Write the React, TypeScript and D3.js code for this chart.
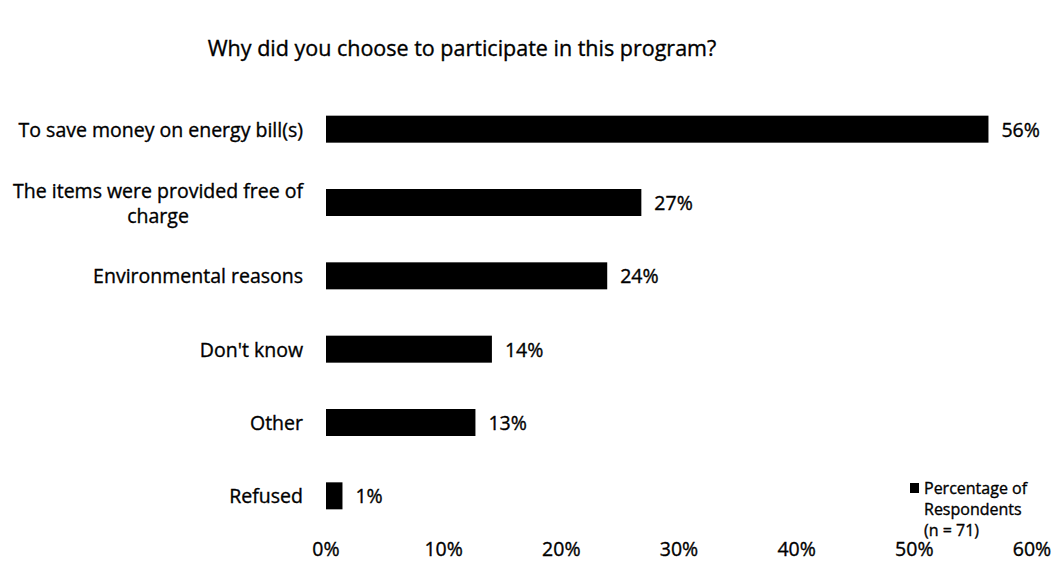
import React, { useEffect, useRef } from "react";
import * as d3 from "d3";

const categories = [
  "To save money on energy bill(s)",
  "The items were provided free of charge",
  "Environmental reasons",
  "Don't know",
  "Other",
  "Refused",
];
const values = [56.3, 26.8, 23.9, 14.1, 12.7, 1.4];
const valueLabels = ["56%", "27%", "24%", "14%", "13%", "1%"];
const xTicks = [0, 10, 20, 30, 40, 50, 60];
const title = "Why did you choose to participate in this program?";
const legendLines = ["Percentage of", "Respondents", "(n = 71)"];

const W = 1056;
const H = 572;
const FONT = "'Open Sans', Lato, sans-serif";
const FS = 19.5;

export default function App() {
  const ref = useRef<SVGSVGElement>(null);

  useEffect(() => {
    const svg = d3.select(ref.current);
    svg.selectAll("*").remove();

    const x = d3.scaleLinear().domain([0, 60]).range([326, 1032]);
    const y = d3.scaleBand().domain(categories).range([92.5, 532.5]);
    const barH = 27;

    const txt = (sel: any, size: number) =>
      sel
        .attr("dominant-baseline", "central")
        .attr("font-family", FONT)
        .attr("font-size", size)
        .attr("fill", "#000")
        .attr("stroke", "#000")
        .attr("stroke-width", 0.35);

    txt(
      svg
        .append("text")
        .attr("x", 462)
        .attr("y", 47)
        .attr("text-anchor", "middle"),
      21.5
    ).text(title);

    const g = svg.append("g");

    g.selectAll("rect.bar")
      .data(values)
      .join("rect")
      .attr("class", "bar")
      .attr("x", x(0))
      .attr("y", (d, i) => (y(categories[i]) as number) + (y.bandwidth() - barH) / 2)
      .attr("width", (d) => x(d) - x(0))
      .attr("height", barH)
      .attr("fill", "#000");

    txt(
      g
        .selectAll("text.val")
        .data(values)
        .join("text")
        .attr("class", "val")
        .attr("x", (d) => x(d) + 13)
        .attr("y", (d, i) => (y(categories[i]) as number) + y.bandwidth() / 2),
      FS
    ).text((d, i) => valueLabels[i]);

    const labelRight = 303;
    categories.forEach((c) => {
      const cy = (y(c) as number) + y.bandwidth() / 2;
      if (c === "The items were provided free of charge") {
        const t1 = txt(
          g.append("text").attr("x", labelRight).attr("y", cy - 12).attr("text-anchor", "end"),
          FS
        ).text("The items were provided free of");
        const w = (t1.node() as SVGTextElement).getComputedTextLength();
        txt(
          g.append("text").attr("x", labelRight - w / 2).attr("y", cy + 13).attr("text-anchor", "middle"),
          FS
        ).text("charge");
      } else {
        txt(
          g.append("text").attr("x", labelRight).attr("y", cy).attr("text-anchor", "end"),
          FS
        ).text(c);
      }
    });

    txt(
      g
        .selectAll("text.tick")
        .data(xTicks)
        .join("text")
        .attr("class", "tick")
        .attr("x", (d) => x(d))
        .attr("y", 548)
        .attr("text-anchor", "middle"),
      FS
    ).text((d) => `${d}%`);

    const lg = svg.append("g");
    lg.append("rect")
      .attr("x", 910)
      .attr("y", 483)
      .attr("width", 9)
      .attr("height", 10)
      .attr("fill", "#000");
    legendLines.forEach((l, i) => {
      txt(lg.append("text").attr("x", 924).attr("y", 488 + i * 21), 16).text(l);
    });
  }, []);

  return (
    <svg
      ref={ref}
      width={W}
      height={H}
      style={{ position: "absolute", left: 0, top: 0, background: "#fff" }}
    />
  );
}
